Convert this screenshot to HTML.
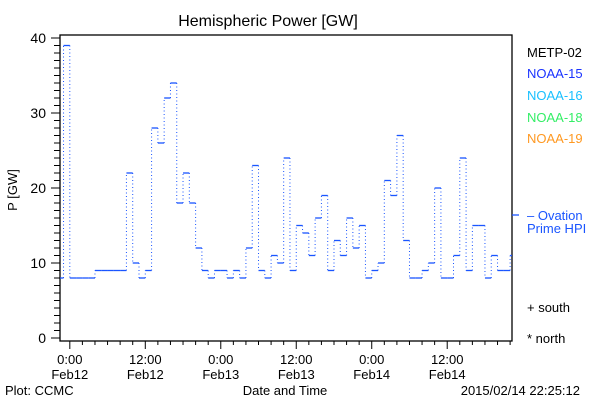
<!DOCTYPE html>
<html><head><meta charset="utf-8"><style>
html,body{margin:0;padding:0;background:#fff;}
svg{display:block;font-family:"Liberation Sans",sans-serif;}
</style></head><body>
<svg id="chart" width="600" height="400" viewBox="0 0 600 400">
<text x="268" y="26" font-size="16" text-anchor="middle">Hemispheric Power [GW]</text>
<text x="0" y="0" font-size="13" text-anchor="middle" transform="translate(17,190) rotate(-90)">P [GW]</text>
<text x="285" y="395" font-size="13" text-anchor="middle">Date and Time</text>
<text x="5" y="395" font-size="13">Plot: CCMC</text>
<text x="580" y="395" font-size="13" text-anchor="end">2015/02/14 22:25:12</text>
<g font-size="13">
<text x="527" y="57" fill="#000">METP-02</text>
<text x="527" y="78" fill="#1a33ff">NOAA-15</text>
<text x="527" y="100" fill="#19c0ff">NOAA-16</text>
<text x="527" y="122" fill="#33ee66">NOAA-18</text>
<text x="527" y="143" fill="#ff9922">NOAA-19</text>
<text x="527" y="220" fill="#1a55ff">– Ovation</text>
<text x="527" y="233" fill="#1a55ff">Prime HPI</text>
<text x="527" y="312" fill="#000">+ south</text>
<text x="527" y="343" fill="#000">* north</text>
</g>
<g id="axes"></g>
<g id="series"></g>
</svg>
<script>
const hours = [-2,-1,0,1,2,3,4,5,6,7,8,9,10,11,12,13,14,15,16,17,18,19,20,21,22,23,24,25,26,27,28,29,30,31,32,33,34,35,36,37,38,39,40,41,42,43,44,45,46,47,48,49,50,51,52,53,54,55,56,57,58,59,60,61,62,63,64,65,66,67,68,69,70];
const power = [8,39,8,8,8,8,9,9,9,9,9,22,10,8,9,28,26,32,34,18,22,18,12,9,8,9,9,8,9,8,12,23,9,8,11,10,24,9,15,14,11,16,19,9,13,11,16,12,15,8,9,10,21,19,27,13,8,8,9,10,20,8,8,11,24,9,15,15,8,11,9,9,11];
const yTicks = [0,10,20,30,40];
const xTickHours = [0,12,24,36,48,60];
const xTickTime = ["0:00","12:00","0:00","12:00","0:00","12:00"];
const xTickDate = ["Feb12","Feb12","Feb13","Feb13","Feb14","Feb14"];
const ovationHPI = [16.4];

const L=60,R=512,T=35,B=341;
const hMin=-1.56,hMax=70.3;
const NS="http://www.w3.org/2000/svg";
function xs(h){return L+(h-hMin)/(hMax-hMin)*(R-L);}
function ys(v){return 338-v*7.5;}
function mk(tag,attrs,parent){const e=document.createElementNS(NS,tag);for(const k in attrs)e.setAttribute(k,attrs[k]);parent.appendChild(e);return e;}
const axes=document.getElementById('axes');
const series=document.getElementById('series');

const frame=mk('rect',{x:L,y:T,width:R-L,height:B-T,fill:'none',stroke:'#000','stroke-width':1.3},axes);



for(let v=0;v<=40;v++){
  const major=v%10===0;
  const t=mk('line',{x1:L-(major?9:6),x2:L,y1:ys(v),y2:ys(v),stroke:'#000','stroke-width':1},axes);
  
  
}
yTicks.forEach(v=>{
  const t=mk('text',{x:L-14,y:ys(v)+5,'font-size':14,'text-anchor':'end'},axes);
  t.textContent=v;
  
  
});
for(let h=0;h<=hMax;h+=2){
  const major=h%12===0;
  const t=mk('line',{x1:xs(h),x2:xs(h),y1:B,y2:B+(major?8:4),stroke:'#000','stroke-width':1},axes);
  
  
}
xTickHours.forEach((h,i)=>{
  const a=mk('text',{x:xs(h),y:364,'font-size':13,'text-anchor':'middle'},axes);
  a.textContent=xTickTime[i];
  
  
  const b=mk('text',{x:xs(h),y:379,'font-size':13,'text-anchor':'middle'},axes);
  b.textContent=xTickDate[i];
  
  
});

const col='#1a55ff';
for(let i=0;i<hours.length;i++){
  const x1=Math.max(L,xs(hours[i])), x2=Math.min(R,xs(hours[i]+1));
  const s=mk('line',{x1:x1,x2:x2,y1:ys(power[i]),y2:ys(power[i]),stroke:col,'stroke-width':1.3},series);
  
  
  if(i>0){
    const d=mk('line',{x1:x1,x2:x1,y1:ys(power[i-1]),y2:ys(power[i]),stroke:col,'stroke-width':1,'stroke-dasharray':'1 2.5'},series);
    
    
  }
}
ovationHPI.forEach(v=>{
  const o=mk('line',{x1:R,x2:R+7,y1:ys(v),y2:ys(v),stroke:col,'stroke-width':1.3},series);
  
  
});
</script>
</body></html>
